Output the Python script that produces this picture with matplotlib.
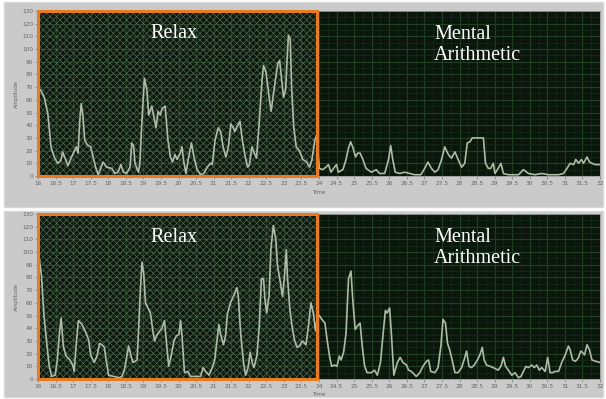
import matplotlib
matplotlib.use("Agg")
import matplotlib.pyplot as plt
from matplotlib.patches import Rectangle
from matplotlib.ticker import MultipleLocator, FuncFormatter

# ---- data ----
top_time = [16.07, 16.18, 16.28, 16.37, 16.46, 16.56, 16.65, 16.7, 16.8, 16.85, 16.94, 17.04, 17.09, 17.14,
            17.19, 17.23, 17.28, 17.33, 17.42, 17.5, 17.57, 17.64, 17.71, 17.8, 17.85, 17.95, 18.1, 18.19,
            18.28, 18.36, 18.43, 18.52, 18.62, 18.67, 18.72, 18.76, 18.86, 18.9, 18.95, 19.03, 19.1, 19.15,
            19.2, 19.24, 19.29, 19.36, 19.42, 19.48, 19.53, 19.62, 19.7, 19.77, 19.83, 19.9, 19.96, 20.05,
            20.1, 20.14, 20.21, 20.29, 20.37, 20.44, 20.53, 20.63, 20.72, 20.82, 20.91, 20.96, 21.04, 21.13,
            21.2, 21.27, 21.35, 21.42, 21.49, 21.56, 21.6, 21.67, 21.75, 21.82, 21.9, 21.97, 22.02, 22.09,
            22.16, 22.22, 22.29, 22.38, 22.42, 22.49, 22.59, 22.64, 22.68, 22.76, 22.83, 22.88, 22.92, 22.99,
            23.05, 23.09, 23.13, 23.18, 23.22, 23.28, 23.35, 23.44, 23.54, 23.65, 23.73, 23.8, 23.88, 23.93,
            24.01, 24.1, 24.2, 24.27, 24.34, 24.44, 24.5, 24.55, 24.68, 24.77, 24.84, 24.9, 24.97, 25.04,
            25.1, 25.17, 25.25, 25.34, 25.49, 25.63, 25.72, 25.87, 25.98, 26.04, 26.1, 26.17, 26.3, 26.44,
            26.58, 26.72, 26.9, 27.01, 27.1, 27.2, 27.3, 27.39, 27.49, 27.58, 27.68, 27.77, 27.87, 27.96,
            28.06, 28.15, 28.22, 28.3, 28.36, 28.44, 28.58, 28.68, 28.74, 28.82, 28.89, 28.96, 29.01, 29.1,
            29.18, 29.25, 29.39, 29.68, 29.82, 29.96, 30.15, 30.34, 30.53, 30.82, 30.96, 31.06, 31.15, 31.25,
            31.31, 31.39, 31.47, 31.53, 31.63, 31.7, 31.77, 31.87, 32.0]
top_amp = [68, 62, 49, 23, 15, 10, 12, 19, 12, 8, 14, 20, 23, 18,
           44, 57, 47, 28, 24, 23, 15, 7, 1, 7, 11, 7, 6, 2,
           3, 9, 3, 2, 7, 26, 24, 10, 3, 10, 39, 77, 68, 48,
           52, 55, 48, 38, 51, 48, 53, 55, 28, 15, 11, 17, 13, 18,
           23, 13, 2, 15, 26, 15, 5, 1, 2, 7, 10, 9, 28, 38,
           35, 23, 15, 23, 41, 38, 35, 39, 43, 28, 15, 7, 9, 23,
           18, 14, 39, 76, 87, 82, 60, 51, 60, 76, 89, 91, 80, 62,
           68, 91, 111, 108, 70, 39, 23, 20, 13, 11, 7, 13, 28, 32,
           6, 5, 7, 9, 3, 7, 9, 3, 5, 13, 22, 27, 22, 15,
           18, 18, 13, 6, 3, 5, 2, 2, 13, 24, 13, 3, 2, 3,
           2, 1, 1, 6, 11, 6, 3, 5, 13, 23, 17, 14, 19, 13,
           7, 10, 26, 27, 30, 30, 30, 30, 10, 6, 6, 10, 2, 6,
           10, 2, 1, 1, 5, 2, 1, 2, 1, 1, 2, 6, 10, 9,
           13, 10, 13, 10, 15, 11, 10, 9, 9]

bottom_time = [16.04, 16.1, 16.17, 16.25, 16.32, 16.39, 16.49, 16.55, 16.61, 16.66, 16.72, 16.8, 16.91, 16.99,
               17.03, 17.09, 17.15, 17.25, 17.34, 17.44, 17.5, 17.6, 17.68, 17.75, 17.82, 17.89, 17.94, 18.01,
               18.15, 18.3, 18.39, 18.46, 18.53, 18.58, 18.65, 18.7, 18.77, 18.82, 18.87, 18.91, 18.96, 19.01,
               19.06, 19.13, 19.2, 19.27, 19.32, 19.39, 19.47, 19.53, 19.6, 19.66, 19.72, 19.79, 19.87, 19.94,
               20.01, 20.06, 20.1, 20.17, 20.27, 20.34, 20.49, 20.63, 20.7, 20.77, 20.87, 20.96, 21.03, 21.1,
               21.15, 21.2, 21.28, 21.34, 21.39, 21.49, 21.58, 21.66, 21.7, 21.77, 21.85, 21.91, 21.98, 22.04,
               22.1, 22.15, 22.23, 22.3, 22.36, 22.42, 22.46, 22.51, 22.58, 22.63, 22.7, 22.77, 22.82, 22.9,
               22.96, 23.01, 23.07, 23.1, 23.17, 23.23, 23.3, 23.37, 23.44, 23.53, 23.63, 23.7, 23.77, 23.84,
               23.9, 23.96, 24.01, 24.08, 24.17, 24.23, 24.3, 24.36, 24.44, 24.51, 24.58, 24.63, 24.7, 24.77,
               24.84, 24.91, 24.96, 25.03, 25.1, 25.17, 25.23, 25.3, 25.37, 25.49, 25.58, 25.66, 25.75, 25.82,
               25.89, 25.94, 26.01, 26.06, 26.13, 26.23, 26.31, 26.39, 26.49, 26.55, 26.63, 26.77, 26.87, 26.96,
               27.06, 27.12, 27.18, 27.3, 27.39, 27.47, 27.53, 27.6, 27.66, 27.72, 27.79, 27.87, 27.96, 28.06,
               28.13, 28.2, 28.27, 28.34, 28.42, 28.51, 28.58, 28.65, 28.7, 28.77, 28.87, 28.96, 29.1, 29.18,
               29.25, 29.31, 29.39, 29.49, 29.58, 29.68, 29.75, 29.82, 29.89, 29.96, 30.06, 30.13, 30.2, 30.27,
               30.34, 30.44, 30.51, 30.58, 30.65, 30.72, 30.82, 30.91, 31.01, 31.1, 31.15, 31.22, 31.3, 31.34,
               31.39, 31.45, 31.5, 31.56, 31.63, 31.7, 31.77, 31.87, 32.0]
bottom_amp = [94, 81, 50, 28, 10, 2, 3, 15, 36, 48, 26, 18, 15, 11,
              6, 28, 46, 43, 38, 31, 19, 13, 18, 28, 27, 25, 15, 3,
              2, 1, 2, 7, 18, 26, 18, 13, 14, 15, 42, 68, 92, 83,
              60, 56, 52, 38, 30, 35, 38, 40, 46, 28, 10, 18, 30, 34,
              35, 46, 34, 5, 6, 2, 2, 2, 9, 6, 3, 9, 15, 31,
              43, 35, 27, 34, 51, 61, 66, 72, 66, 36, 13, 3, 9, 21,
              13, 9, 18, 42, 79, 79, 63, 52, 66, 102, 121, 110, 89, 76,
              65, 79, 102, 81, 55, 42, 31, 25, 26, 30, 27, 42, 60, 52,
              38, 50, 50, 47, 44, 31, 18, 10, 11, 10, 18, 15, 21, 36,
              79, 85, 63, 39, 42, 44, 26, 10, 5, 5, 7, 3, 13, 34,
              54, 52, 56, 36, 3, 13, 17, 13, 11, 7, 6, 2, 5, 10,
              14, 15, 6, 5, 9, 26, 47, 44, 28, 23, 15, 5, 5, 9,
              15, 22, 10, 9, 11, 15, 19, 25, 15, 11, 10, 9, 7, 10,
              17, 10, 7, 3, 5, 1, 2, 6, 10, 9, 11, 9, 11, 7,
              9, 6, 17, 5, 5, 6, 6, 13, 19, 26, 23, 15, 14, 15,
              17, 22, 21, 19, 27, 23, 15, 14, 13]

x_ticks = [16 + 0.5 * i for i in range(33)]
y_ticks = list(range(0, 131, 10))
relax_end = 23.95
state_left = "Relax"
state_right = ["Mental", "Arithmetic"]

# ---- figure ----
plt.rcParams["hatch.linewidth"] = 0.45
W, H = 606, 399
fig = plt.figure(figsize=(W / 100, H / 100), dpi=100, facecolor="white")

# gray panel backgrounds
for (x0, y0, x1, y1) in [(4, 2, 603, 207), (4, 211, 603, 397)]:
    fig.patches.append(Rectangle((x0 / W, 1 - y1 / H), (x1 - x0) / W, (y1 - y0) / H,
                                 transform=fig.transFigure, facecolor="#cacaca",
                                 edgecolor="#d8d8d8", linewidth=1, zorder=-10))

panels = [
    ((38, 11, 600, 176), top_time, top_amp, 33, 45, 192),
    ((38, 214, 600, 379), bottom_time, bottom_amp, 237, 248, 395),
]

grid_major = "#203f24"
grid_minor = "#132a16"
tick_color = "#666666"

for (l, t, r, b), tt, aa, relax_y, mental_y, time_y in panels:
    ax = fig.add_axes([l / W, 1 - b / H, (r - l) / W, (b - t) / H])
    ax.set_zorder(1)
    ax.set_facecolor("#0a160b")
    ax.set_xlim(16, 32)
    ax.set_ylim(0, 130)
    ax.set_xticks(x_ticks)
    ax.set_yticks(y_ticks)
    ax.xaxis.set_minor_locator(MultipleLocator(0.25))
    ax.yaxis.set_minor_locator(MultipleLocator(5))
    ax.xaxis.set_major_formatter(FuncFormatter(lambda v, p: "%g" % v))
    ax.grid(True, which="major", color=grid_major, linewidth=0.8, zorder=1)
    ax.grid(True, which="minor", color=grid_minor, linewidth=0.6, zorder=1)
    ax.set_axisbelow(True)
    ax.tick_params(which="major", direction="out", length=2, width=0.6, color="#888888",
                   labelsize=4.2, labelcolor=tick_color, pad=1.5)
    ax.tick_params(which="minor", length=0)
    for s in ax.spines.values():
        s.set_color("#9a9a9a")
        s.set_linewidth(0.6)

    # stippled "relax" region
    ax.add_patch(Rectangle((16, 0), relax_end - 16, 130, facecolor="none",
                           edgecolor="#586a57", hatch="xxxxx", linewidth=0, zorder=2))

    ax.plot(tt, aa, color="#adbba7", linewidth=1.2, zorder=3)

    # orange frame
    ax.add_patch(Rectangle((16, 0), relax_end - 16, 130, facecolor="none",
                           edgecolor="#e87a22", linewidth=2.2, zorder=5, clip_on=False))

    ax.set_ylabel("Amplitude", fontsize=4, color=tick_color, labelpad=2)
    fig.text(319 / W, 1 - time_y / H, "Time", fontsize=4, color=tick_color,
             ha="center", va="center")
    fig.text(174 / W, 1 - relax_y / H, state_left, fontsize=14.5, color="white",
             family="Liberation Serif", ha="center", va="center", zorder=10)
    fig.text(434 / W, 1 - mental_y / H, state_right[0] + "\n" + state_right[1],
             fontsize=14.5, color="white", family="Liberation Serif",
             ha="left", va="center", linespacing=1.15, zorder=10)

fig.savefig("out.png", dpi=100, facecolor="white")
